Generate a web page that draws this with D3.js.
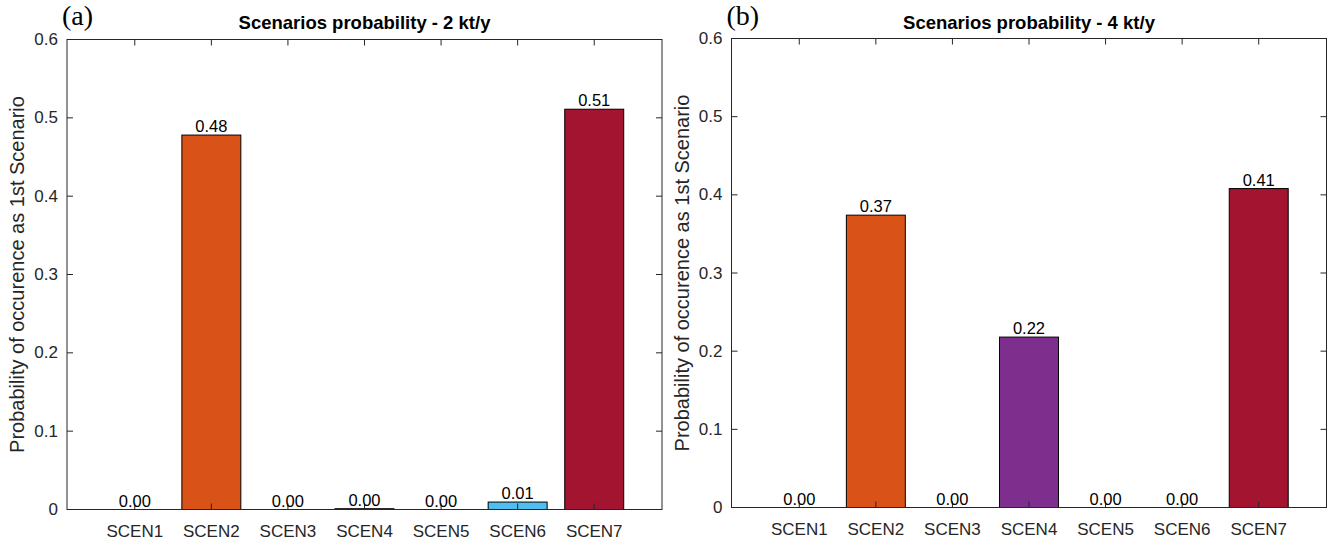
<!DOCTYPE html>
<html><head><meta charset="utf-8">
<script src="https://cdn.jsdelivr.net/npm/d3@7"></script>
<style>body{margin:0;background:#fff}svg{display:block}</style>
</head><body>
<script>
const categories = ["SCEN1","SCEN2","SCEN3","SCEN4","SCEN5","SCEN6","SCEN7"];
const values2kt = [0, 0.478, 0, 0.001, 0, 0.0095, 0.511];
const values4kt = [0, 0.374, 0, 0.218, 0, 0, 0.408];
const barColors = ["#0072BD","#D95319","#EDB120","#7E2F8E","#77AC30","#4DBEEE","#A2142F"];
const yTicks = [0, 0.1, 0.2, 0.3, 0.4, 0.5, 0.6];
const titles = ["Scenarios probability - 2 kt/y", "Scenarios probability - 4 kt/y"];
const panelLabels = ["(a)", "(b)"];
const yLabel = "Probability of occurence as 1st Scenario";

const W = 1333, H = 542;
const svg = d3.select("body").append("svg").attr("width", W).attr("height", H);
const axCol = "#262626";
const sans = "Liberation Sans, Arial, sans-serif";
const panels = [
  {x0: 67, x1: 662, y0: 39.5, y1: 509.5, vals: values2kt},
  {x0: 731.5, x1: 1326.5, y0: 38.5, y1: 507.5, vals: values4kt}
];

panels.forEach((p, i) => {
  const g = svg.append("g");
  const x = d3.scaleLinear().domain([0.115, 7.885]).range([p.x0, p.x1]);
  const y = d3.scaleLinear().domain([0, 0.6]).range([p.y1, p.y0]);
  const bw = x(1.77) - x(1);
  const tl = 6;

  g.selectAll("rect.bar").data(p.vals).join("rect")
    .attr("x", (d, j) => x(j + 1) - bw / 2)
    .attr("y", d => y(d))
    .attr("width", bw)
    .attr("height", d => y(0) - y(d))
    .attr("fill", (d, j) => barColors[j])
    .attr("stroke", "#000").attr("stroke-width", 1);

  g.append("rect").attr("x", p.x0).attr("y", p.y0)
    .attr("width", p.x1 - p.x0).attr("height", p.y1 - p.y0)
    .attr("fill", "none").attr("stroke", axCol).attr("stroke-width", 1);

  yTicks.forEach(t => {
    g.append("line").attr("x1", p.x0).attr("x2", p.x0 + tl)
      .attr("y1", y(t)).attr("y2", y(t)).attr("stroke", axCol);
    g.append("line").attr("x1", p.x1).attr("x2", p.x1 - tl)
      .attr("y1", y(t)).attr("y2", y(t)).attr("stroke", axCol);
    g.append("text").attr("x", p.x0 - 9).attr("y", y(t))
      .attr("text-anchor", "end").attr("dominant-baseline", "central")
      .attr("font-family", sans)
      .attr("font-size", 17).attr("fill", axCol).text(d3.format("")(t));
  });

  categories.forEach((c, j) => {
    const cx = x(j + 1);
    g.append("line").attr("x1", cx).attr("x2", cx)
      .attr("y1", p.y1).attr("y2", p.y1 - tl).attr("stroke", axCol);
    g.append("line").attr("x1", cx).attr("x2", cx)
      .attr("y1", p.y0).attr("y2", p.y0 + tl).attr("stroke", axCol);
    g.append("text").attr("x", cx).attr("y", p.y1 + 27)
      .attr("text-anchor", "middle")
      .attr("font-family", sans)
      .attr("font-size", 17).attr("fill", axCol).text(c);
  });

  g.selectAll("text.val").data(p.vals).join("text")
    .attr("x", (d, j) => x(j + 1))
    .attr("y", d => y(d) - 3)
    .attr("text-anchor", "middle")
    .attr("font-family", sans)
    .attr("font-size", 16.5).attr("fill", "#000")
    .text(d => d3.format(".2f")(d));

  g.append("text").attr("x", (p.x0 + p.x1) / 2).attr("y", 29)
    .attr("text-anchor", "middle")
    .attr("font-family", sans)
    .attr("font-weight", "bold").attr("font-size", 18.5).attr("fill", "#000")
    .text(titles[i]);

  g.append("text").attr("x", p.x0 - 5).attr("y", 25)
    .attr("font-family", "Liberation Serif, Times New Roman, serif")
    .attr("font-size", 28).attr("fill", "#000").text(panelLabels[i]);

  g.append("text")
    .attr("transform", `translate(${p.x0 - 50},${(p.y0 + p.y1) / 2}) rotate(-90)`)
    .attr("text-anchor", "middle").attr("dominant-baseline", "central")
    .attr("font-family", sans)
    .attr("font-size", 20).attr("fill", axCol).text(yLabel);
});
</script>
</body></html>
